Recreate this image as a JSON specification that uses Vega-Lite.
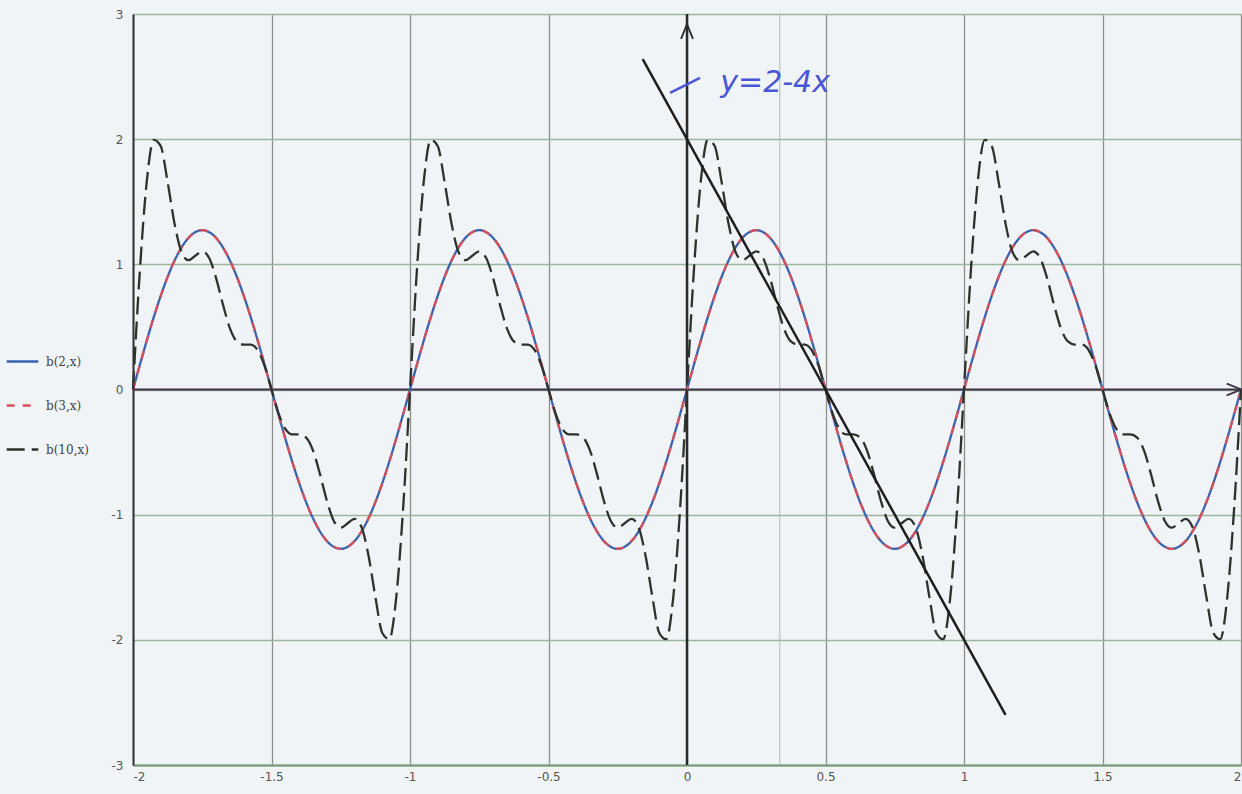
{
  "$schema": "https://vega.github.io/schema/vega-lite/v6.json",
  "width": 1108,
  "height": 751,
  "autosize": {"type": "none"},
  "padding": {"left": 133, "top": 14, "right": 1, "bottom": 29},
  "background": "#f1f4f6",
  "config": {
    "view": {"stroke": "#a0a0a0", "strokeWidth": 1},
    "legend": {
      "orient": "none",
      "legendX": -128,
      "legendY": 330,
      "symbolType": "stroke",
      "symbolSize": 1000,
      "symbolStrokeWidth": 2.5,
      "labelFont": "DejaVu Serif",
      "labelFontSize": 12,
      "labelColor": "#444444",
      "rowPadding": 20,
      "labelOffset": 6
    }
  },
  "layer": [
    {
      "data": {"values": [{"x": 0.335}]},
      "mark": {"type": "rule", "color": "#b4b4b4", "strokeWidth": 1},
      "encoding": {"x": {"field": "x", "type": "quantitative"}}
    },
    {
      "data": {"values": [{"x": 0}]},
      "mark": {"type": "rule", "color": "#2a2a2a", "strokeWidth": 2.5},
      "encoding": {"x": {"field": "x", "type": "quantitative"}}
    },
    {
      "data": {"values": [{"y": 0}]},
      "mark": {"type": "rule", "color": "#3d2f48", "strokeWidth": 2},
      "encoding": {"y": {"field": "y", "type": "quantitative"}}
    },
    {
      "data": {"values": [
        {"x": -2, "b2": 0, "b3": 0, "b10": 0},
        {"x": -1.975, "b2": 0.199, "b3": 0.199, "b10": 0.956},
        {"x": -1.95, "b2": 0.393, "b3": 0.393, "b10": 1.668},
        {"x": -1.925, "b2": 0.578, "b3": 0.578, "b10": 1.995},
        {"x": -1.9, "b2": 0.748, "b3": 0.748, "b10": 1.945},
        {"x": -1.875, "b2": 0.9, "b3": 0.9, "b10": 1.657},
        {"x": -1.85, "b2": 1.03, "b3": 1.03, "b10": 1.325},
        {"x": -1.825, "b2": 1.134, "b3": 1.134, "b10": 1.1},
        {"x": -1.8, "b2": 1.211, "b3": 1.211, "b10": 1.033},
        {"x": -1.775, "b2": 1.257, "b3": 1.257, "b10": 1.069},
        {"x": -1.75, "b2": 1.273, "b3": 1.273, "b10": 1.104},
        {"x": -1.725, "b2": 1.257, "b3": 1.257, "b10": 1.05},
        {"x": -1.7, "b2": 1.211, "b3": 1.211, "b10": 0.89},
        {"x": -1.675, "b2": 1.134, "b3": 1.134, "b10": 0.676},
        {"x": -1.65, "b2": 1.03, "b3": 1.03, "b10": 0.488},
        {"x": -1.625, "b2": 0.9, "b3": 0.9, "b10": 0.384},
        {"x": -1.6, "b2": 0.748, "b3": 0.748, "b10": 0.359},
        {"x": -1.575, "b2": 0.578, "b3": 0.578, "b10": 0.359},
        {"x": -1.55, "b2": 0.393, "b3": 0.393, "b10": 0.315},
        {"x": -1.525, "b2": 0.199, "b3": 0.199, "b10": 0.188},
        {"x": -1.5, "b2": 0, "b3": 0, "b10": 0},
        {"x": -1.475, "b2": -0.199, "b3": -0.199, "b10": -0.188},
        {"x": -1.45, "b2": -0.393, "b3": -0.393, "b10": -0.315},
        {"x": -1.425, "b2": -0.578, "b3": -0.578, "b10": -0.359},
        {"x": -1.4, "b2": -0.748, "b3": -0.748, "b10": -0.359},
        {"x": -1.375, "b2": -0.9, "b3": -0.9, "b10": -0.384},
        {"x": -1.35, "b2": -1.03, "b3": -1.03, "b10": -0.488},
        {"x": -1.325, "b2": -1.134, "b3": -1.134, "b10": -0.676},
        {"x": -1.3, "b2": -1.211, "b3": -1.211, "b10": -0.89},
        {"x": -1.275, "b2": -1.257, "b3": -1.257, "b10": -1.05},
        {"x": -1.25, "b2": -1.273, "b3": -1.273, "b10": -1.104},
        {"x": -1.225, "b2": -1.257, "b3": -1.257, "b10": -1.069},
        {"x": -1.2, "b2": -1.211, "b3": -1.211, "b10": -1.033},
        {"x": -1.175, "b2": -1.134, "b3": -1.134, "b10": -1.1},
        {"x": -1.15, "b2": -1.03, "b3": -1.03, "b10": -1.325},
        {"x": -1.125, "b2": -0.9, "b3": -0.9, "b10": -1.657},
        {"x": -1.1, "b2": -0.748, "b3": -0.748, "b10": -1.945},
        {"x": -1.075, "b2": -0.578, "b3": -0.578, "b10": -1.995},
        {"x": -1.05, "b2": -0.393, "b3": -0.393, "b10": -1.668},
        {"x": -1.025, "b2": -0.199, "b3": -0.199, "b10": -0.956},
        {"x": -1, "b2": 0, "b3": 0, "b10": 0},
        {"x": -0.975, "b2": 0.199, "b3": 0.199, "b10": 0.956},
        {"x": -0.95, "b2": 0.393, "b3": 0.393, "b10": 1.668},
        {"x": -0.925, "b2": 0.578, "b3": 0.578, "b10": 1.995},
        {"x": -0.9, "b2": 0.748, "b3": 0.748, "b10": 1.945},
        {"x": -0.875, "b2": 0.9, "b3": 0.9, "b10": 1.657},
        {"x": -0.85, "b2": 1.03, "b3": 1.03, "b10": 1.325},
        {"x": -0.825, "b2": 1.134, "b3": 1.134, "b10": 1.1},
        {"x": -0.8, "b2": 1.211, "b3": 1.211, "b10": 1.033},
        {"x": -0.775, "b2": 1.257, "b3": 1.257, "b10": 1.069},
        {"x": -0.75, "b2": 1.273, "b3": 1.273, "b10": 1.104},
        {"x": -0.725, "b2": 1.257, "b3": 1.257, "b10": 1.05},
        {"x": -0.7, "b2": 1.211, "b3": 1.211, "b10": 0.89},
        {"x": -0.675, "b2": 1.134, "b3": 1.134, "b10": 0.676},
        {"x": -0.65, "b2": 1.03, "b3": 1.03, "b10": 0.488},
        {"x": -0.625, "b2": 0.9, "b3": 0.9, "b10": 0.384},
        {"x": -0.6, "b2": 0.748, "b3": 0.748, "b10": 0.359},
        {"x": -0.575, "b2": 0.578, "b3": 0.578, "b10": 0.359},
        {"x": -0.55, "b2": 0.393, "b3": 0.393, "b10": 0.315},
        {"x": -0.525, "b2": 0.199, "b3": 0.199, "b10": 0.188},
        {"x": -0.5, "b2": 0, "b3": 0, "b10": 0},
        {"x": -0.475, "b2": -0.199, "b3": -0.199, "b10": -0.188},
        {"x": -0.45, "b2": -0.393, "b3": -0.393, "b10": -0.315},
        {"x": -0.425, "b2": -0.578, "b3": -0.578, "b10": -0.359},
        {"x": -0.4, "b2": -0.748, "b3": -0.748, "b10": -0.359},
        {"x": -0.375, "b2": -0.9, "b3": -0.9, "b10": -0.384},
        {"x": -0.35, "b2": -1.03, "b3": -1.03, "b10": -0.488},
        {"x": -0.325, "b2": -1.134, "b3": -1.134, "b10": -0.676},
        {"x": -0.3, "b2": -1.211, "b3": -1.211, "b10": -0.89},
        {"x": -0.275, "b2": -1.257, "b3": -1.257, "b10": -1.05},
        {"x": -0.25, "b2": -1.273, "b3": -1.273, "b10": -1.104},
        {"x": -0.225, "b2": -1.257, "b3": -1.257, "b10": -1.069},
        {"x": -0.2, "b2": -1.211, "b3": -1.211, "b10": -1.033},
        {"x": -0.175, "b2": -1.134, "b3": -1.134, "b10": -1.1},
        {"x": -0.15, "b2": -1.03, "b3": -1.03, "b10": -1.325},
        {"x": -0.125, "b2": -0.9, "b3": -0.9, "b10": -1.657},
        {"x": -0.1, "b2": -0.748, "b3": -0.748, "b10": -1.945},
        {"x": -0.075, "b2": -0.578, "b3": -0.578, "b10": -1.995},
        {"x": -0.05, "b2": -0.393, "b3": -0.393, "b10": -1.668},
        {"x": -0.025, "b2": -0.199, "b3": -0.199, "b10": -0.956},
        {"x": 0, "b2": 0, "b3": 0, "b10": 0},
        {"x": 0.025, "b2": 0.199, "b3": 0.199, "b10": 0.956},
        {"x": 0.05, "b2": 0.393, "b3": 0.393, "b10": 1.668},
        {"x": 0.075, "b2": 0.578, "b3": 0.578, "b10": 1.995},
        {"x": 0.1, "b2": 0.748, "b3": 0.748, "b10": 1.945},
        {"x": 0.125, "b2": 0.9, "b3": 0.9, "b10": 1.657},
        {"x": 0.15, "b2": 1.03, "b3": 1.03, "b10": 1.325},
        {"x": 0.175, "b2": 1.134, "b3": 1.134, "b10": 1.1},
        {"x": 0.2, "b2": 1.211, "b3": 1.211, "b10": 1.033},
        {"x": 0.225, "b2": 1.257, "b3": 1.257, "b10": 1.069},
        {"x": 0.25, "b2": 1.273, "b3": 1.273, "b10": 1.104},
        {"x": 0.275, "b2": 1.257, "b3": 1.257, "b10": 1.05},
        {"x": 0.3, "b2": 1.211, "b3": 1.211, "b10": 0.89},
        {"x": 0.325, "b2": 1.134, "b3": 1.134, "b10": 0.676},
        {"x": 0.35, "b2": 1.03, "b3": 1.03, "b10": 0.488},
        {"x": 0.375, "b2": 0.9, "b3": 0.9, "b10": 0.384},
        {"x": 0.4, "b2": 0.748, "b3": 0.748, "b10": 0.359},
        {"x": 0.425, "b2": 0.578, "b3": 0.578, "b10": 0.359},
        {"x": 0.45, "b2": 0.393, "b3": 0.393, "b10": 0.315},
        {"x": 0.475, "b2": 0.199, "b3": 0.199, "b10": 0.188},
        {"x": 0.5, "b2": 0, "b3": 0, "b10": 0},
        {"x": 0.525, "b2": -0.199, "b3": -0.199, "b10": -0.188},
        {"x": 0.55, "b2": -0.393, "b3": -0.393, "b10": -0.315},
        {"x": 0.575, "b2": -0.578, "b3": -0.578, "b10": -0.359},
        {"x": 0.6, "b2": -0.748, "b3": -0.748, "b10": -0.359},
        {"x": 0.625, "b2": -0.9, "b3": -0.9, "b10": -0.384},
        {"x": 0.65, "b2": -1.03, "b3": -1.03, "b10": -0.488},
        {"x": 0.675, "b2": -1.134, "b3": -1.134, "b10": -0.676},
        {"x": 0.7, "b2": -1.211, "b3": -1.211, "b10": -0.89},
        {"x": 0.725, "b2": -1.257, "b3": -1.257, "b10": -1.05},
        {"x": 0.75, "b2": -1.273, "b3": -1.273, "b10": -1.104},
        {"x": 0.775, "b2": -1.257, "b3": -1.257, "b10": -1.069},
        {"x": 0.8, "b2": -1.211, "b3": -1.211, "b10": -1.033},
        {"x": 0.825, "b2": -1.134, "b3": -1.134, "b10": -1.1},
        {"x": 0.85, "b2": -1.03, "b3": -1.03, "b10": -1.325},
        {"x": 0.875, "b2": -0.9, "b3": -0.9, "b10": -1.657},
        {"x": 0.9, "b2": -0.748, "b3": -0.748, "b10": -1.945},
        {"x": 0.925, "b2": -0.578, "b3": -0.578, "b10": -1.995},
        {"x": 0.95, "b2": -0.393, "b3": -0.393, "b10": -1.668},
        {"x": 0.975, "b2": -0.199, "b3": -0.199, "b10": -0.956},
        {"x": 1, "b2": 0, "b3": 0, "b10": 0},
        {"x": 1.025, "b2": 0.199, "b3": 0.199, "b10": 0.956},
        {"x": 1.05, "b2": 0.393, "b3": 0.393, "b10": 1.668},
        {"x": 1.075, "b2": 0.578, "b3": 0.578, "b10": 1.995},
        {"x": 1.1, "b2": 0.748, "b3": 0.748, "b10": 1.945},
        {"x": 1.125, "b2": 0.9, "b3": 0.9, "b10": 1.657},
        {"x": 1.15, "b2": 1.03, "b3": 1.03, "b10": 1.325},
        {"x": 1.175, "b2": 1.134, "b3": 1.134, "b10": 1.1},
        {"x": 1.2, "b2": 1.211, "b3": 1.211, "b10": 1.033},
        {"x": 1.225, "b2": 1.257, "b3": 1.257, "b10": 1.069},
        {"x": 1.25, "b2": 1.273, "b3": 1.273, "b10": 1.104},
        {"x": 1.275, "b2": 1.257, "b3": 1.257, "b10": 1.05},
        {"x": 1.3, "b2": 1.211, "b3": 1.211, "b10": 0.89},
        {"x": 1.325, "b2": 1.134, "b3": 1.134, "b10": 0.676},
        {"x": 1.35, "b2": 1.03, "b3": 1.03, "b10": 0.488},
        {"x": 1.375, "b2": 0.9, "b3": 0.9, "b10": 0.384},
        {"x": 1.4, "b2": 0.748, "b3": 0.748, "b10": 0.359},
        {"x": 1.425, "b2": 0.578, "b3": 0.578, "b10": 0.359},
        {"x": 1.45, "b2": 0.393, "b3": 0.393, "b10": 0.315},
        {"x": 1.475, "b2": 0.199, "b3": 0.199, "b10": 0.188},
        {"x": 1.5, "b2": 0, "b3": 0, "b10": 0},
        {"x": 1.525, "b2": -0.199, "b3": -0.199, "b10": -0.188},
        {"x": 1.55, "b2": -0.393, "b3": -0.393, "b10": -0.315},
        {"x": 1.575, "b2": -0.578, "b3": -0.578, "b10": -0.359},
        {"x": 1.6, "b2": -0.748, "b3": -0.748, "b10": -0.359},
        {"x": 1.625, "b2": -0.9, "b3": -0.9, "b10": -0.384},
        {"x": 1.65, "b2": -1.03, "b3": -1.03, "b10": -0.488},
        {"x": 1.675, "b2": -1.134, "b3": -1.134, "b10": -0.676},
        {"x": 1.7, "b2": -1.211, "b3": -1.211, "b10": -0.89},
        {"x": 1.725, "b2": -1.257, "b3": -1.257, "b10": -1.05},
        {"x": 1.75, "b2": -1.273, "b3": -1.273, "b10": -1.104},
        {"x": 1.775, "b2": -1.257, "b3": -1.257, "b10": -1.069},
        {"x": 1.8, "b2": -1.211, "b3": -1.211, "b10": -1.033},
        {"x": 1.825, "b2": -1.134, "b3": -1.134, "b10": -1.1},
        {"x": 1.85, "b2": -1.03, "b3": -1.03, "b10": -1.325},
        {"x": 1.875, "b2": -0.9, "b3": -0.9, "b10": -1.657},
        {"x": 1.9, "b2": -0.748, "b3": -0.748, "b10": -1.945},
        {"x": 1.925, "b2": -0.578, "b3": -0.578, "b10": -1.995},
        {"x": 1.95, "b2": -0.393, "b3": -0.393, "b10": -1.668},
        {"x": 1.975, "b2": -0.199, "b3": -0.199, "b10": -0.956},
        {"x": 2, "b2": 0, "b3": 0, "b10": 0}
      ]},
      "transform": [{"fold": ["b2", "b3", "b10"], "as": ["series", "y"]}],
      "mark": {"type": "line", "interpolate": "monotone", "strokeWidth": 2.3},
      "encoding": {
        "x": {
          "field": "x", "type": "quantitative",
          "scale": {"domain": [-2, 2], "nice": false, "zero": false},
          "axis": {
            "title": null,
            "values": [-2, -1.5, -1, -0.5, 0, 0.5, 1, 1.5, 2],
            "labelExpr": "'' + datum.value",
            "grid": true, "gridColor": "#8e8e8e", "gridWidth": 1.3,
            "domainColor": "#6f9a6f", "domainWidth": 2,
            "ticks": false,
            "labelFont": "DejaVu Sans", "labelFontSize": 12, "labelColor": "#555555",
            "labelPadding": 6
          }
        },
        "y": {
          "field": "y", "type": "quantitative",
          "scale": {"domain": [-3, 3], "nice": false, "zero": false},
          "axis": {
            "title": null,
            "values": [-3, -2, -1, 0, 1, 2, 3],
            "labelExpr": "'' + datum.value",
            "grid": true, "gridColor": "#9db59d", "gridWidth": 1.3,
            "domainColor": "#333333", "domainWidth": 2,
            "ticks": false,
            "labelFont": "DejaVu Sans", "labelFontSize": 12, "labelColor": "#555555",
            "labelPadding": 10
          }
        },
        "color": {
          "field": "series", "type": "nominal",
          "scale": {"domain": ["b2", "b3", "b10"], "range": ["#3a62ae", "#d9505a", "#2c322c"]},
          "legend": {"title": null, "labelExpr": "datum.label == 'b2' ? 'b(2,x)' : datum.label == 'b3' ? 'b(3,x)' : 'b(10,x)'"}
        },
        "strokeDash": {
          "field": "series", "type": "nominal",
          "scale": {"domain": ["b2", "b3", "b10"], "range": [[1, 0], [8, 8], [18, 7]]},
          "legend": {"title": null, "labelExpr": "datum.label == 'b2' ? 'b(2,x)' : datum.label == 'b3' ? 'b(3,x)' : 'b(10,x)'"}
        }
      }
    },
    {
      "data": {"values": [{"x": -0.16, "y": 2.64}, {"x": 1.15, "y": -2.6}]},
      "mark": {"type": "line", "color": "#1e1e1e", "strokeWidth": 2.5},
      "encoding": {
        "x": {"field": "x", "type": "quantitative"},
        "y": {"field": "y", "type": "quantitative"}
      }
    },
    {
      "data": {"values": [{"x": 0, "y": 2.86}]},
      "mark": {"type": "point", "shape": "M-0.8,1L0,-1L0.8,1", "filled": false, "color": "#2a2a2a", "strokeWidth": 1.8, "size": 220, "opacity": 1},
      "encoding": {
        "x": {"field": "x", "type": "quantitative"},
        "y": {"field": "y", "type": "quantitative"}
      }
    },
    {
      "data": {"values": [{"x": 1.975, "y": 0}]},
      "mark": {"type": "point", "shape": "M-1,-0.8L1,0L-1,0.8", "filled": false, "color": "#3d2f48", "strokeWidth": 1.8, "size": 220, "opacity": 1},
      "encoding": {
        "x": {"field": "x", "type": "quantitative"},
        "y": {"field": "y", "type": "quantitative"}
      }
    },
    {
      "data": {"values": [{"x": -0.061, "y": 2.37}, {"x": 0.047, "y": 2.49}]},
      "mark": {"type": "line", "color": "#4a56d6", "strokeWidth": 2.5},
      "encoding": {
        "x": {"field": "x", "type": "quantitative"},
        "y": {"field": "y", "type": "quantitative"}
      }
    },
    {
      "data": {"values": [{"x": 0.318, "y": 2.45, "label": "y=2-4x"}]},
      "mark": {"type": "text", "color": "#4a56d6", "font": "DejaVu Sans", "fontStyle": "italic", "fontSize": 30, "align": "center", "baseline": "middle"},
      "encoding": {
        "x": {"field": "x", "type": "quantitative"},
        "y": {"field": "y", "type": "quantitative"},
        "text": {"field": "label"}
      }
    }
  ]
}
